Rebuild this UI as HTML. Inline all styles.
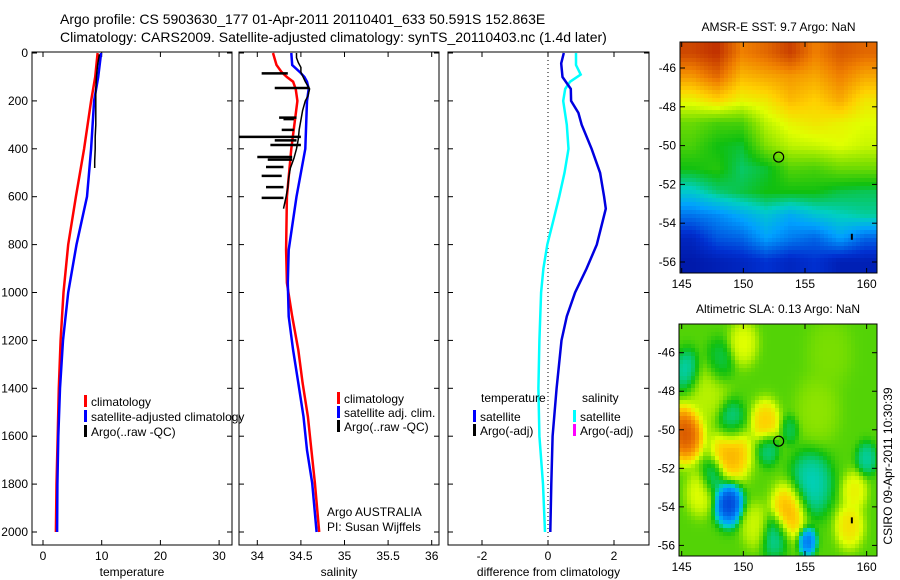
<!DOCTYPE html>
<html><head><meta charset="utf-8"><style>
html,body{margin:0;padding:0;background:#fff;}
svg{display:block;font-family:"Liberation Sans",Arial,sans-serif;}
text{font-size:12px;fill:#000;}
</style></head><body>
<svg id="fig" width="900" height="580" viewBox="0 0 900 580" xmlns="http://www.w3.org/2000/svg">
<text x="60" y="24" style="font-size:14px">Argo profile: CS 5903630_177 01-Apr-2011 20110401_633 50.591S 152.863E</text>
<text x="60" y="42" style="font-size:14px">Climatology: CARS2009. Satellite-adjusted climatology: synTS_20110403.nc (1.4d later)</text>
<g id="g1"></g>
<g id="g2"></g>
<g id="g3"></g>
<g id="m1"></g>
<g id="m2"></g>
<text transform="translate(892,466) rotate(-90)" text-anchor="middle">CSIRO 09-Apr-2011 10:30:39</text>
</svg>
<script>
// ---- data ----
const depths = [0,100,200,400,600,800,1000,1200,1400,1600,1800,2000];
const tempClim = [9.3,8.9,8.2,7.0,5.6,4.3,3.5,3.0,2.7,2.5,2.3,2.2];
const tempSat  = [9.9,9.4,8.7,8.2,7.5,5.7,4.3,3.4,2.9,2.6,2.45,2.4];
const argoTDepth = [5,50,100,150,200,250,300,350,400,450,480];
const argoT = [9.6,9.3,9.1,9.0,9.0,9.0,9.0,8.9,8.9,8.8,8.8];
const salDepth = [0,50,80,100,120,150,200,400,600,822,960,1100,1240,1378,1518,1658,1796,2000];
const salClim = [34.18,34.22,34.28,34.34,34.41,34.44,34.46,34.39,34.34,34.33,34.34,34.40,34.47,34.52,34.58,34.62,34.66,34.71];
const salSat  = [34.39,34.40,34.49,34.54,34.57,34.59,34.57,34.55,34.45,34.36,34.35,34.36,34.41,34.47,34.53,34.57,34.63,34.68];
const argoSDepth = [0,20,40,60,80,120,150,180,200,240,280,320,360,400,440,480,520,560,600,650];
const argoS = [34.45,34.45,34.47,34.5,34.5,34.55,34.6,34.58,34.55,34.52,34.5,34.48,34.47,34.45,34.42,34.38,34.36,34.35,34.33,34.3];
const spikeDepth = [85,146,270,276,321,350,365,384,434,445,476,513,560,605];
const spikeLow = [34.05,34.2,34.25,34.3,34.28,33.79,34.2,34.15,34.0,34.12,34.1,34.05,34.1,34.05];
const spikeHigh = [34.35,34.6,34.45,34.42,34.42,34.5,34.45,34.5,34.4,34.4,34.3,34.28,34.3,34.3];
const diffDepth = [0,43,57,100,150,200,250,300,400,500,600,650,700,800,900,1000,1100,1200,1400,1600,1800,2000];
const diffT = [0.48,0.4,0.41,0.44,0.69,0.7,0.92,1.02,1.32,1.58,1.70,1.75,1.66,1.48,1.17,0.82,0.57,0.41,0.26,0.14,0.10,0.07];
const diffSDepth = [0,50,90,120,150,200,300,400,500,600,700,800,900,1000,1200,1400,1600,1800,2000];
const diffS = [0.85,0.85,0.99,0.67,0.52,0.46,0.57,0.62,0.5,0.34,0.16,-0.02,-0.14,-0.21,-0.26,-0.29,-0.26,-0.15,-0.09];
const depthTicks = [0,200,400,600,800,1000,1200,1400,1600,1800,2000];
const tempTicks = [0,10,20,30];
const salTicks = [34,34.5,35,35.5,36];
const salTickLabels = ["34","34.5","35","35.5","36"];
const diffTicks = [-2,0,2];
const lonTicks = [145,150,155,160];
const latTicks = [-46,-48,-50,-52,-54,-56];
const sstGrid = [
[0.92,0.95,0.85,0.88,0.93,0.85,0.9,0.88],
[0.82,0.88,0.78,0.8,0.82,0.8,0.85,0.8],
[0.7,0.75,0.7,0.72,0.78,0.75,0.8,0.72],
[0.58,0.55,0.55,0.65,0.7,0.72,0.7,0.68],
[0.55,0.5,0.48,0.6,0.65,0.66,0.68,0.66],
[0.5,0.52,0.45,0.48,0.56,0.55,0.58,0.58],
[0.38,0.44,0.47,0.5,0.5,0.5,0.47,0.46],
[0.24,0.27,0.32,0.37,0.32,0.37,0.4,0.42],
[0.12,0.2,0.22,0.3,0.25,0.22,0.3,0.22],
[0.08,0.1,0.12,0.15,0.12,0.15,0.1,0.1]];
const slaBlobLon = [145.3,149,151.8,153.7,158.6,146.5,150,159,151,148.8,155.2,155.5,149,152,145.5,160,152.5,147.5,148,153.8,147,156,157];
const slaBlobLat = [-50.2,-51.2,-49.6,-54.2,-55,-53.3,-45.5,-53.2,-55,-53.8,-55.8,-52.8,-49.6,-51,-47,-51.5,-55.5,-52.5,-46.5,-50,-48,-49,-46];
const slaBlobVal = [0.95,0.82,0.78,0.82,0.75,0.7,0.7,0.72,0.68,0.12,0.2,0.38,0.4,0.42,0.38,0.4,0.4,0.42,0.45,0.45,0.66,0.62,0.6];
const slaBlobR = [1,1.1,0.8,1,0.8,0.8,0.8,0.7,0.8,0.8,0.5,1.2,0.8,0.6,0.8,0.6,0.8,0.7,0.8,0.5,1.2,1.2,1.2];

// ---- helpers ----
const NS="http://www.w3.org/2000/svg";
function mk(parent,tag,attrs,txt){const e=document.createElementNS(NS,tag);for(const k in attrs)e.setAttribute(k,attrs[k]);if(txt!==undefined)e.textContent=txt;parent.appendChild(e);return e;}
const yD = d => 53 + d*0.2395;
function axesBox(g,x0,x1,y0,y1){
  const r=mk(g,'rect',{x:x0,y:y0,width:x1-x0,height:y1-y0,fill:'none',stroke:'#000','stroke-width':1});
  
  
}
function line(g,xs,ys,color,w,name){
  const pts=xs.map((x,i)=>x.toFixed(1)+','+ys[i].toFixed(1)).join(' ');
  const p=mk(g,'polyline',{points:pts,fill:'none',stroke:color,'stroke-width':w});
  
  
}
function panel(g,x0,x1,sx,ticks,labels,title,showY){
  axesBox(g,x0,x1,52,545);
  depthTicks.forEach(d=>{const y=yD(d);
    mk(g,'line',{x1:x0,y1:y,x2:x0+5,y2:y,stroke:'#000'});
    mk(g,'line',{x1:x1,y1:y,x2:x1-5,y2:y,stroke:'#000'});
    if(showY){const t=mk(g,'text',{x:x0-4,y:y+4,'text-anchor':'end'},String(d));
      
      }
  });
  ticks.forEach((v,i)=>{const x=sx(v);
    mk(g,'line',{x1:x,y1:545,x2:x,y2:540,stroke:'#000'});
    mk(g,'line',{x1:x,y1:52,x2:x,y2:57,stroke:'#000'});
    const t=mk(g,'text',{x:x,y:560,'text-anchor':'middle'},labels[i]);
    
    
  });
  const tt=mk(g,'text',{x:(x0+x1)/2,y:576,'text-anchor':'middle'},title);
  
  
}
function legend(g,x,y,color,label){
  mk(g,'rect',{x:x,y:y-6,width:3,height:12,fill:color});
  const t=mk(g,'text',{x:x+7,y:y+5},label);
  
  
}

// ---- temperature panel ----
const g1=document.getElementById('g1');
const sxT = v => 43 + v*5.87;
panel(g1,32,232,sxT,tempTicks,tempTicks.map(String),'temperature',true);
line(g1,tempClim.map(sxT),depths.map(yD),'#ff0000',2.5,'temperature-climatology-line');
line(g1,tempSat.map(sxT),depths.map(yD),'#0000ff',2.5,'temperature-satellite-line');
line(g1,argoT.map(sxT),argoTDepth.map(yD),'#000',1.5,'temperature-argo-line');
legend(g1,84,401,'#ff0000','climatology');
legend(g1,84,416,'#0000ff','satellite-adjusted climatology');
legend(g1,84,431,'#000','Argo(..raw -QC)');

// ---- salinity panel ----
const g2=document.getElementById('g2');
const sxS = v => 257.3 + (v-34)*87.2;
panel(g2,239,439,sxS,salTicks,salTickLabels,'salinity',false);
line(g2,salClim.map(sxS),salDepth.map(yD),'#ff0000',2.5,'salinity-climatology-line');
line(g2,salSat.map(sxS),salDepth.map(yD),'#0000ff',2.5,'salinity-satellite-line');
line(g2,argoS.map(sxS),argoSDepth.map(yD),'#000',1.5,'salinity-argo-line');
spikeDepth.forEach((d,i)=>{
  const s=mk(g2,'line',{x1:sxS(spikeLow[i]),y1:yD(d),x2:sxS(spikeHigh[i]),y2:yD(d),stroke:'#000','stroke-width':2.5});
  
  
});
legend(g2,337,398,'#ff0000','climatology');
legend(g2,337,412,'#0000ff','satellite adj. clim.');
legend(g2,337,426,'#000','Argo(..raw -QC)');
mk(g2,'text',{x:327,y:516},'Argo AUSTRALIA');
mk(g2,'text',{x:327,y:531},'PI: Susan Wijffels');

// ---- difference panel ----
const g3=document.getElementById('g3');
const sxD = v => 548 + v*33;
panel(g3,448,649,sxD,diffTicks,diffTicks.map(String),'difference from climatology',false);
mk(g3,'line',{x1:sxD(0),y1:52,x2:sxD(0),y2:545,stroke:'#000','stroke-dasharray':'1,3'});
line(g3,diffS.map(sxD),diffSDepth.map(yD),'#00ffff',2.5,'salinity-difference-line');
line(g3,diffT.map(sxD),diffDepth.map(yD),'#0000e0',2.5,'temperature-difference-line');
mk(g3,'text',{x:481,y:402},'temperature');
mk(g3,'text',{x:582,y:402},'salinity');
legend(g3,473,416,'#0000ff','satellite');
legend(g3,473,430,'#000','Argo(-adj)');
legend(g3,573,416,'#00ffff','satellite');
legend(g3,573,430,'#ff00ff','Argo(-adj)');

// ---- maps ----
const stops=[[0,[0,0,128]],[0.15,[0,48,208]],[0.3,[0,160,255]],[0.4,[0,208,192]],[0.5,[16,192,16]],[0.6,[128,224,0]],[0.68,[224,255,0]],[0.75,[255,208,0]],[0.85,[240,128,0]],[0.95,[192,48,0]],[1,[144,0,0]]];
function cmap(v){v=Math.max(0,Math.min(1,v));for(let i=1;i<stops.length;i++){if(v<=stops[i][0]){const a=stops[i-1],b=stops[i],t=(v-a[0])/(b[0]-a[0]);return 'rgb('+a[1].map((c,k)=>Math.round(c+(b[1][k]-c)*t)).join(',')+')';}}return 'rgb(144,0,0)';}
function mapAxes(g,x0,x1,y0,y1,sx,sy,title){
  const t=mk(g,'text',{x:(x0+x1)/2,y:y0-11,'text-anchor':'middle'},title);
  
  
  axesBox(g,x0,x1,y0,y1);
  lonTicks.forEach(l=>{const x=sx(l);mk(g,'line',{x1:x,y1:y1,x2:x,y2:y1-5,stroke:'#000'});mk(g,'line',{x1:x,y1:y0,x2:x,y2:y0+5,stroke:'#000'});
    const tl=mk(g,'text',{x:x,y:y1+15,'text-anchor':'middle'},String(l));
    
    });
  latTicks.forEach(l=>{const y=sy(l);mk(g,'line',{x1:x0,y1:y,x2:x0+5,y2:y,stroke:'#000'});mk(g,'line',{x1:x1,y1:y,x2:x1-5,y2:y,stroke:'#000'});
    const tl=mk(g,'text',{x:x0-4,y:y+4,'text-anchor':'end'},String(l));
    
    });
  const c=mk(g,'circle',{cx:sx(152.863),cy:sy(-50.591),r:5,fill:'none',stroke:'#000','stroke-width':1.2});
  
  
  mk(g,'rect',{x:sx(158.8)-1,y:sy(-54.7)-3,width:2,height:6,fill:'#000'});
}
const cell=4;
// SST map
(function(){
  const g=document.getElementById('m1');
  const x0=680,x1=877,y0=42,y1=273;
  const sx=l=>681.7+(l-145)*12.33, sy=l=>68+(-46-l)*19.4;
  const rows=sstGrid.length, cols=sstGrid[0].length;
  for(let y=y0;y<y1;y+=cell)for(let x=x0;x<x1;x+=cell){
    const fx=(x+cell/2-x0)/(x1-x0)*cols-0.5, fy=(y+cell/2-y0)/(y1-y0)*rows-0.5;
    const i0=Math.max(0,Math.min(rows-1,Math.floor(fy))), j0=Math.max(0,Math.min(cols-1,Math.floor(fx)));
    const i1=Math.min(rows-1,i0+1), j1=Math.min(cols-1,j0+1);
    const ty=Math.max(0,Math.min(1,fy-i0)), tx=Math.max(0,Math.min(1,fx-j0));
    const v=(sstGrid[i0][j0]*(1-tx)+sstGrid[i0][j1]*tx)*(1-ty)+(sstGrid[i1][j0]*(1-tx)+sstGrid[i1][j1]*tx)*ty;
    mk(g,'rect',{x:x,y:y,width:Math.min(cell,x1-x),height:Math.min(cell,y1-y),fill:cmap(v)});
  }
  mapAxes(g,x0,x1,y0,y1,sx,sy,'AMSR-E SST: 9.7 Argo: NaN');
})();
// SLA map
(function(){
  const g=document.getElementById('m2');
  const x0=679,x1=877,y0=324,y1=556;
  const sx=l=>681.7+(l-145)*12.33, sy=l=>352.7+(-46-l)*19.27;
  for(let y=y0;y<y1;y+=cell)for(let x=x0;x<x1;x+=cell){
    const lon=145+(x+cell/2-681.7)/12.33, lat=-46-(y+cell/2-352.7)/19.27;
    let wsum=1, acc=0.56;
    for(let k=0;k<slaBlobVal.length;k++){
      const d2=((lon-slaBlobLon[k])**2+(lat-slaBlobLat[k])**2)/(slaBlobR[k]**2);
      const w=Math.exp(-d2)*6; acc+=w*slaBlobVal[k]; wsum+=w;
    }
    const v=acc/wsum;
    mk(g,'rect',{x:x,y:y,width:Math.min(cell,x1-x),height:Math.min(cell,y1-y),fill:cmap(v)});
  }
  mapAxes(g,x0,x1,y0,y1,sx,sy,'Altimetric SLA: 0.13 Argo: NaN');
})();
</script>
</body></html>
